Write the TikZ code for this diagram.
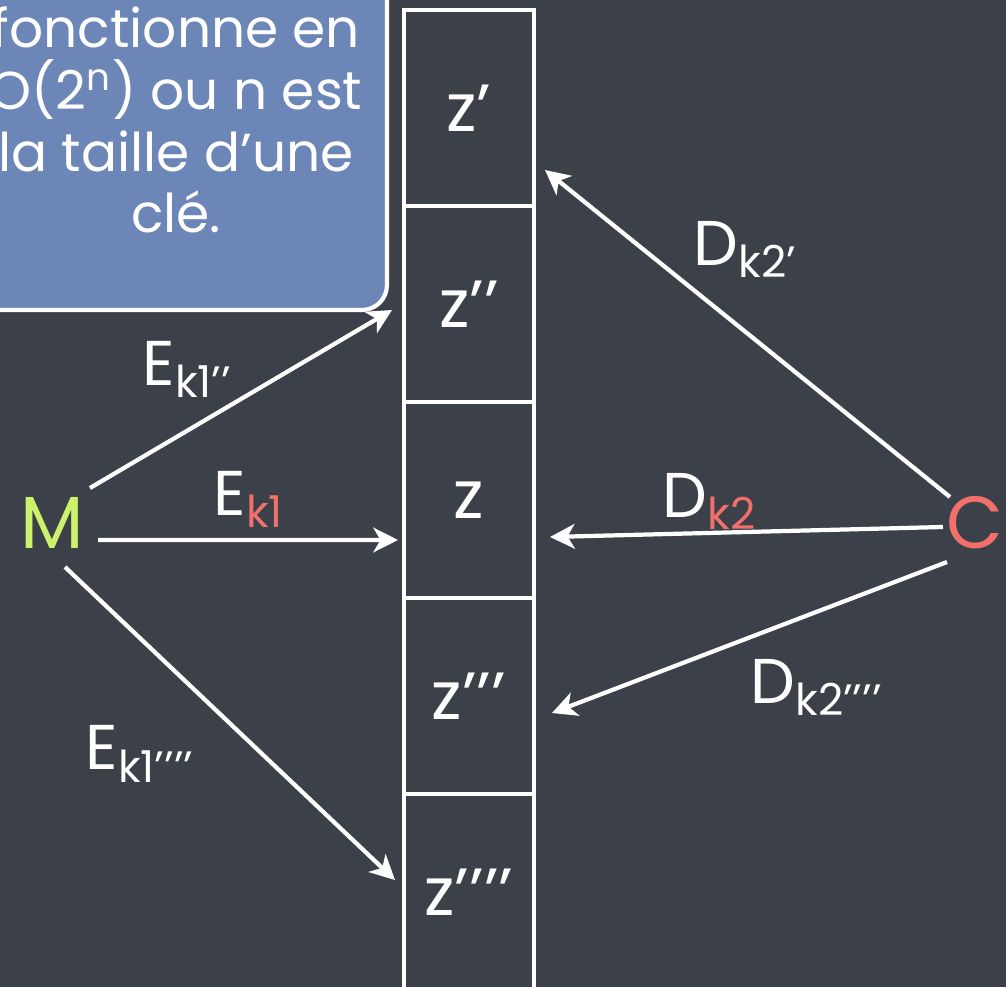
\documentclass[tikz,border=0pt]{standalone}
\usepackage{fontspec}
\setmainfont{Poppins}
\usetikzlibrary{arrows.meta,positioning,calc}
\definecolor{board}{HTML}{3C4049}
\definecolor{boxblue}{HTML}{6B86B7}
\definecolor{mgreen}{HTML}{CCF26C}
\definecolor{cred}{HTML}{F2706A}
\newcommand{\sub}[1]{\raisebox{-0.35ex}{\fontsize{12.5}{13}\selectfont #1}}

\begin{document}
\begin{tikzpicture}[
    cell/.style={draw=white, line width=1pt, minimum width=1.3cm, minimum height=1.96cm, outer sep=0pt, inner sep=0pt, text=white, font=\fontsize{19}{20}\selectfont},
    lbl/.style={text=white, inner sep=0pt, anchor=base west, font=\fontsize{18}{20}\selectfont},
    arr/.style={-{Stealth[length=7pt,width=7pt,inset=2pt]}, white, line width=1.2pt}]
    \fill[board] (0,0) rectangle (10.06,-9.87);
    \useasboundingbox (0,0) rectangle (10.06,-9.87);
    % note box, partly off the page
    \node[draw=white, line width=1.2pt, fill=boxblue, rounded corners=0.25cm, minimum width=4.17cm, minimum height=3.4cm, text=white] (note) at (1.785,-1.4) {};
    \node[align=center, text=white, font=\fontsize{15.2}{17.6}\selectfont] (notetext) at (1.76,-1.2) {fonctionne en\\O(2\textsuperscript{n}) ou n est\\la taille d’une\\clé.};
    % column of keys
    \node[cell] (z1) at (4.69,-1.08) {z’};
    \node[cell, below=0pt of z1] (z2) {z’’};
    \node[cell, below=0pt of z2] (z3) {z};
    \node[cell, below=0pt of z3] (z4) {z’’’};
    \node[cell, below=0pt of z4] (z5) {z’’’’};
    % ends
    \node[text=mgreen, font=\fontsize{21}{24}\selectfont] (m) at (0.52,-5.23) {M};
    \node[text=cred, font=\fontsize{21}{24}\selectfont] (c) at (9.75,-5.23) {C};
    \draw[arr] ([shift={(0.38,0.35)}]m.center) -- ([shift={(-0.12,-0.06)}]z2.west);
    \draw[arr] ([shift={(0.46,-0.17)}]m.center) -- ([shift={(-0.06,-0.40)}]z3.west);
    \draw[arr] ([shift={(0.13,-0.44)}]m.center) -- ([shift={(-0.09,0.12)}]z5.west);
    \draw[arr] ([shift={(-0.25,0.26)}]c.center) -- ([shift={(0.11,-0.62)}]z1.east);
    \draw[arr] ([shift={(-0.32,-0.04)}]c.center) -- ([shift={(0.16,-0.37)}]z3.east);
    \draw[arr] ([shift={(-0.28,-0.39)}]c.center) -- ([shift={(0.18,-0.17)}]z4.east);
    % labels
    \node[lbl] (e2) at (1.42,-3.85) {E\sub{k1’’}};
    \node[lbl] (e1) at (2.13,-5.15) {E\sub{\textcolor{cred}{k1}}};
    \node[lbl] (e4) at (0.85,-7.70) {E\sub{k1’’’’}};
    \node[lbl] (d1) at (6.93,-2.65) {D\sub{k2’}};
    \node[lbl] (d2) at (6.62,-5.17) {D\sub{\textcolor{cred}{k2}}};
    \node[lbl] (d3) at (7.50,-7.03) {D\sub{k2’’’’}};
\end{tikzpicture}
\end{document}
